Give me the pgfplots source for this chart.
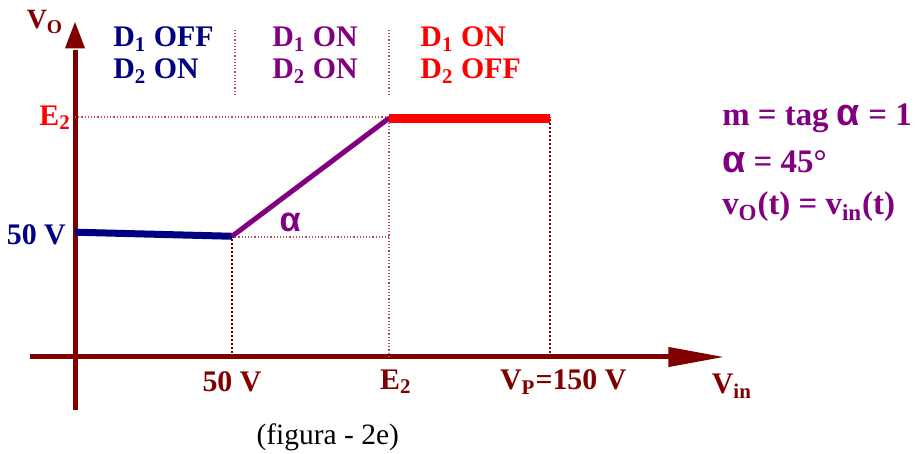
\documentclass[border=0pt]{standalone}
\usepackage{pgfplots}
\pgfplotsset{compat=1.18}
\usepackage{fontspec}
\setmainfont{Liberation Serif}
\newfontfamily\alfont{Liberation Sans}
\definecolor{axred}{HTML}{800000}
\definecolor{navyb}{HTML}{000080}
\definecolor{purp}{HTML}{800080}
\definecolor{dotc}{HTML}{B05050}
\newcommand{\al}{{\alfont\bfseries\scalebox{1.15}{α}}}
\tikzset{lab/.style={font=\fontsize{15}{18}\selectfont\bfseries, inner sep=0pt},
  labr/.style={font=\fontsize{15}{18}\selectfont\bfseries, inner sep=0pt, anchor=west},
  labm/.style={font=\fontsize{16.5}{20}\selectfont\bfseries, inner sep=0pt, anchor=west}}
\begin{document}
\begin{tikzpicture}
\begin{axis}[
  scale only axis, width=458bp, height=227bp,
  xmin=-23.885, xmax=267.83, ymin=-40.417, ymax=148.75,
  hide axis, clip=false,
]
% axes
\draw[axred, line width=2.5bp] (axis cs:-14.3,0) -- (axis cs:196,0);
\draw[axred, line width=2.5bp] (axis cs:0,-22.1) -- (axis cs:0,128);
\fill[axred] (axis cs:206.4,0) -- (axis cs:189,4.2) -- (axis cs:189,-4.2) -- cycle;
\fill[axred] (axis cs:0,139.6) -- (axis cs:-3.2,128.6) -- (axis cs:3.2,128.6) -- cycle;
% dotted guides
\draw[dotc, densely dotted, line width=0.6bp] (axis cs:0,100) -- (axis cs:100,100);
\draw[dotc, densely dotted, line width=0.6bp] (axis cs:50,50) -- (axis cs:100,50);
\draw[axred, densely dotted, line width=1bp] (axis cs:50,0) -- (axis cs:50,50);
\draw[dotc, densely dotted, line width=0.6bp] (axis cs:100,0) -- (axis cs:100,100);
\draw[axred, densely dotted, line width=1bp] (axis cs:151.3,0) -- (axis cs:151.3,100);
\draw[dotc, densely dotted, line width=0.6bp] (axis cs:50.96,109.2) -- (axis cs:50.96,136.25);
\draw[dotc, densely dotted, line width=0.6bp] (axis cs:100,109.2) -- (axis cs:100,136.25);
% data
\addplot[navyb, line width=3.5bp] coordinates {(0,52) (50,50.3)};
\addplot[purp, line width=2.5bp] coordinates {(50,50.3) (100,99.5)};
\addplot[red, line width=4.5bp] coordinates {(100,99.5) (151.3,99.5)};
% labels
\node[lab, axred, font=\fontsize{14}{17}\selectfont\bfseries] at (axis cs:-9.55,139.6) {V\textsubscript{O}};
\node[labr, navyb, align=left] at (axis cs:12.1,125.8) {D\textsubscript{1} OFF\\[-2pt]D\textsubscript{2} ON};
\node[labr, purp, align=left] at (axis cs:62.7,125.8) {D\textsubscript{1} ON\\[-2pt]D\textsubscript{2} ON};
\node[labr, red, align=left] at (axis cs:109.9,125.8) {D\textsubscript{1} ON\\[-2pt]D\textsubscript{2} OFF};
\node[lab, red, anchor=east] at (axis cs:-1.2,99.6) {E\textsubscript{2}};
\node[lab, navyb, anchor=east] at (axis cs:-2.8,50.8) {50 V};
\node[lab, axred] at (axis cs:50,-10.4) {50 V};
\node[lab, axred] at (axis cs:102.2,-10.4) {E\textsubscript{2}};
\node[lab, axred] at (axis cs:155.5,-10.4) {V\textsubscript{P}=150 V};
\node[lab, axred] at (axis cs:209.2,-12.1) {V\textsubscript{in}};
\node[lab, purp] at (axis cs:68.5,56.25) {\al};
\node[labm, purp] at (axis cs:206,99.3) {m = tag \al{} = 1};
\node[labm, purp] at (axis cs:206,81.2) {\al{} = 45°};
\node[labm, purp] at (axis cs:206,62.5) {v\textsubscript{O}(t) = v\textsubscript{in}(t)};
\node[inner sep=0pt, black, font=\fontsize{14.8}{17}\selectfont] at (axis cs:80.5,-33.3) {(figura - 2e)};
\end{axis}
\pgfresetboundingbox
\path[use as bounding box] (0,0) rectangle (458bp,227bp);
\end{tikzpicture}
\end{document}
